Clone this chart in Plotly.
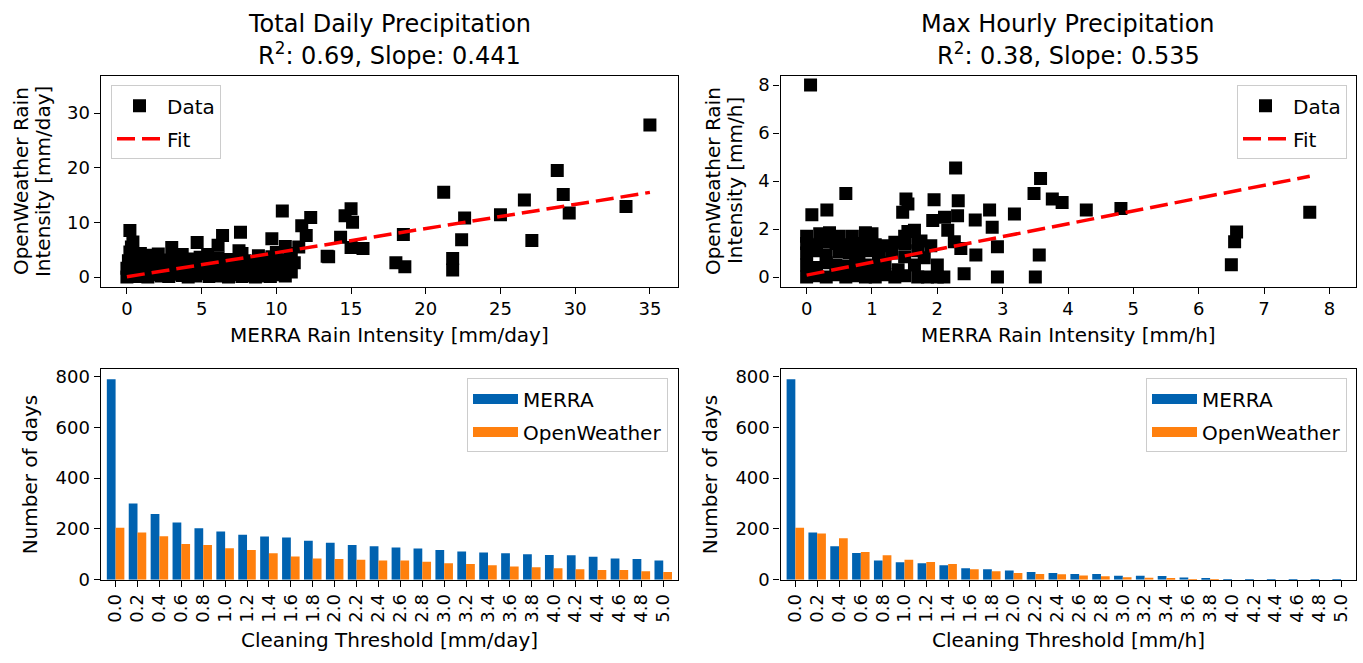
import plotly.graph_objects as go

W, H = 1363, 663
FONT = "DejaVu Sans"

# ---------------- data ----------------
# Total daily precipitation scatter (MERRA x, OpenWeather y) [mm/day]
daily_merra = [
    0.0, 0.1, 0.3, 0.6, 1.0, 1.4, 1.9, 2.3, 2.8, 3.2, 3.7, 4.1, 4.6, 5.0, 5.5, 5.9, 6.4, 6.8, 7.3, 7.7, 8.2, 8.6, 9.1, 9.6, 10.2, 10.6, 11.0,
    0.0, 0.5, 1.1, 1.6, 2.2, 2.7, 3.3, 3.8, 4.4, 4.9, 5.5, 6.0, 6.6, 7.1, 7.7, 8.2, 8.8, 9.3, 9.9, 10.4, 10.9,
    0.1, 0.7, 1.3, 1.9, 2.5, 3.1, 3.7, 4.3, 4.9, 5.5, 6.1, 6.7, 7.3, 7.9, 8.5, 9.1, 9.7, 10.3, 10.9,
    0.2, 0.9, 1.5, 2.1, 3.0, 3.7, 4.7, 5.4, 6.4, 6.1, 7.5, 8.8, 9.7, 10.6, 10.0, 11.0,
    0.2, 0.4, 0.3,
    7.6, 7.7, 10.4, 11.7, 12.3, 12.0, 11.2, 11.5, 13.4, 8.8,
    35.0, 28.8, 29.2, 29.6, 33.4, 26.6, 27.1, 25.0, 21.2, 22.6, 22.4, 21.8, 21.8,
    18.5, 18.0, 18.6, 15.0, 14.6, 15.1, 14.3, 15.0, 15.8, 13.5,
]
daily_ow = [
    0.0, 0.2, 0.5, 0.1, 0.3, 0.0, 0.4, 0.2, 0.1, 0.5, 0.3, 0.0, 0.2, 0.6, 0.1, 0.3, 0.2, 0.0, 0.4, 0.1, 0.3, 0.0, 0.2, 0.1, 0.4, 0.2, 0.9,
    1.6, 1.4, 1.8, 1.2, 1.5, 2.0, 1.3, 1.7, 1.5, 1.9, 1.2, 1.6, 1.4, 1.8, 1.3, 1.5, 1.1, 1.7, 1.9, 1.4, 2.2,
    3.0, 2.8, 3.2, 2.9, 3.1, 3.4, 2.7, 3.3, 3.6, 2.9, 3.5, 3.2, 2.8, 3.0, 2.4, 3.3, 3.7, 3.1, 3.4,
    4.6, 4.3, 4.0, 4.2, 5.4, 4.1, 6.3, 4.1, 7.6, 5.8, 4.8, 3.9, 7.0, 5.6, 4.5, 4.3,
    8.5, 6.4, 5.5,
    8.2, 4.3, 12.1, 9.4, 10.9, 7.6, 2.6, 5.5, 3.8, 2.3,
    27.8, 19.5, 15.1, 11.7, 12.9, 14.1, 6.7, 11.4, 15.5, 10.8, 6.8, 3.4, 1.3,
    7.8, 2.6, 1.9, 12.5, 11.2, 10.0, 7.3, 5.4, 5.2, 3.7,
]

# Max hourly precipitation scatter (MERRA x, OpenWeather y) [mm/h]
hourly_merra = [
    0.0, 0.15, 0.3, 0.45, 0.6, 0.75, 0.9, 1.05, 1.2, 1.35, 1.5, 1.7, 1.85, 2.0, 2.1,
    0.0, 0.15, 0.3, 0.45, 0.6, 0.75, 0.9, 1.05, 1.2, 1.65,
    0.0, 0.15, 0.3, 0.5, 0.65, 0.8, 0.95, 1.1, 1.3, 1.5, 1.7,
    0.0, 0.15, 0.3, 0.45, 0.6, 0.75, 0.9, 1.05, 1.5, 1.7,
    0.0, 0.2, 0.35, 0.5, 0.7, 0.9, 1.0, 1.2, 1.35, 1.5, 1.65, 1.55,
    1.9, 1.8, 2.0, 1.75, 1.4,
    0.6, 0.08, 0.31, 1.52, 1.55, 1.47, 1.95, 2.28, 2.32, 1.93, 2.11, 2.31, 2.16, 2.58, 2.80,
    2.84, 2.92, 3.18, 3.48, 3.58, 3.76, 3.91, 4.28, 3.56, 3.50, 2.92, 2.41, 2.26, 2.36, 2.59,
    4.81, 7.70, 6.58, 6.55, 6.50, 0.06,
]
hourly_ow = [
    0.0, 0.05, 0.0, 0.1, 0.0, 0.05, 0.0, 0.0, 0.1, 0.0, 0.05, 0.0, 0.0, 0.0, 0.0,
    0.5, 0.4, 0.6, 0.5, 0.45, 0.55, 0.5, 0.4, 0.6, 0.5,
    1.0, 1.1, 0.9, 1.05, 1.0, 0.95, 1.1, 0.9, 1.0, 0.85, 1.1,
    1.4, 1.35, 1.45, 1.4, 1.35, 1.4, 1.45, 1.35, 1.4, 1.45,
    1.7, 1.8, 1.85, 1.7, 1.7, 1.85, 1.8, 1.3, 1.45, 1.7, 1.95, 1.9,
    1.3, 0.8, 0.5, 1.5, 0.3,
    3.48, 2.60, 2.79, 3.25, 3.04, 2.70, 3.22, 4.55, 3.18, 2.36, 2.49, 2.56, 1.95, 2.38, 2.79,
    2.08, 1.26, 2.63, 3.48, 4.11, 3.25, 3.11, 2.79, 0.92, 0.0, 0.0, 0.14, 1.47, 1.19, 0.92,
    2.86, 2.70, 1.88, 1.47, 0.51, 8.01,
]

daily_slope, daily_intercept, daily_r2 = 0.441, 0.05, 0.69
hourly_slope, hourly_intercept, hourly_r2 = 0.535, 0.08, 0.38

thresholds = ["0.0", "0.2", "0.4", "0.6", "0.8", "1.0", "1.2", "1.4", "1.6", "1.8",
              "2.0", "2.2", "2.4", "2.6", "2.8", "3.0", "3.2", "3.4", "3.6", "3.8",
              "4.0", "4.2", "4.4", "4.6", "4.8", "5.0"]
daily_merra_days = [790, 300, 259, 225, 203, 190, 177, 170, 166, 154, 146, 137, 132,
                    127, 123, 117, 111, 107, 104, 100, 98, 97, 91, 84, 82, 76]
daily_ow_days = [205, 186, 171, 141, 137, 124, 117, 104, 92, 84, 82, 79, 76,
                 76, 71, 65, 62, 57, 52, 49, 45, 41, 38, 38, 34, 31]
hourly_merra_days = [790, 186, 132, 105, 76, 69, 65, 57, 45, 41, 36, 31, 27,
                     23, 23, 16, 16, 15, 9, 6, 3, 3, 3, 3, 3, 2]
hourly_ow_days = [205, 182, 163, 109, 97, 79, 70, 62, 41, 34, 27, 23, 22,
                  17, 14, 10, 8, 4, 1, 1, 0, 0, 0, 0, 0, 0]

# ---------------- figure ----------------
def fx(px):
    return px / W

def fy(py):
    return 1 - py / H

LEFT = [fx(100.7), fx(677.7)]
RIGHT = [fx(780.5), fx(1355.5)]
TOP = [fy(289.3), fy(74.0)]
BOT = [fy(588.3), fy(373.3)]

BLUE = "#0062b0"
ORANGE = "#ff800e"
TICK_SIZE = 18
LABEL_SIZE = 20
TITLE_SIZE = 24

fig = go.Figure()

def fit_line(xs, slope, intercept):
    x0, x1 = min(xs), max(xs)
    return [x0, x1], [slope * x0 + intercept, slope * x1 + intercept]

# daily scatter
fig.add_trace(go.Scatter(x=daily_merra, y=daily_ow, mode="markers", name="Data",
                         marker=dict(symbol="square", size=13, color="black", line=dict(width=0)),
                         xaxis="x", yaxis="y", legend="legend", legendgroup="d1"))
fx_d, fy_d = fit_line(daily_merra, daily_slope, daily_intercept)
fig.add_trace(go.Scatter(x=fx_d, y=fy_d, mode="lines", name="Fit",
                         line=dict(color="red", width=3.5, dash="18px,7px"),
                         xaxis="x", yaxis="y", legend="legend", legendgroup="d2"))
# hourly scatter
fig.add_trace(go.Scatter(x=hourly_merra, y=hourly_ow, mode="markers", name="Data",
                         marker=dict(symbol="square", size=13, color="black", line=dict(width=0)),
                         xaxis="x2", yaxis="y2", legend="legend2", legendgroup="h1"))
fx_h, fy_h = fit_line(hourly_merra, hourly_slope, hourly_intercept)
fig.add_trace(go.Scatter(x=fx_h, y=fy_h, mode="lines", name="Fit",
                         line=dict(color="red", width=3.5, dash="18px,7px"),
                         xaxis="x2", yaxis="y2", legend="legend2", legendgroup="h2"))

# bars (legend entries drawn as wide patches, like matplotlib)
for xa, ya, leg, merra_vals, ow_vals, g in [
    ("x3", "y3", "legend3", daily_merra_days, daily_ow_days, "b"),
    ("x4", "y4", "legend4", hourly_merra_days, hourly_ow_days, "c"),
]:
    fig.add_trace(go.Bar(x=thresholds, y=merra_vals, name="MERRA",
                         marker=dict(color=BLUE, line=dict(width=0)),
                         xaxis=xa, yaxis=ya, showlegend=False, offsetgroup="m", legendgroup=g + "1"))
    fig.add_trace(go.Bar(x=thresholds, y=ow_vals, name="OpenWeather",
                         marker=dict(color=ORANGE, line=dict(width=0)),
                         xaxis=xa, yaxis=ya, showlegend=False, offsetgroup="o", legendgroup=g + "2"))
    fig.add_trace(go.Scatter(x=[None], y=[None], mode="lines", name="MERRA",
                             line=dict(color=BLUE, width=14), xaxis=xa, yaxis=ya,
                             legend=leg, legendgroup=g + "1", hoverinfo="skip"))
    fig.add_trace(go.Scatter(x=[None], y=[None], mode="lines", name="OpenWeather",
                             line=dict(color=ORANGE, width=14), xaxis=xa, yaxis=ya,
                             legend=leg, legendgroup=g + "2", hoverinfo="skip"))

axis_common = dict(showline=True, linecolor="black", linewidth=1.3, mirror=True,
                   ticks="outside", ticklen=6, tickwidth=1.3, tickcolor="black",
                   showgrid=False, zeroline=False,
                   tickfont=dict(family=FONT, size=TICK_SIZE, color="black"))

lim_d = [-1.755, 36.86]
lim_h = [-0.4, 8.4]
cat_axis = dict(type="category", range=[-0.68, 25.66], tickangle=-90,
                tickmode="array", tickvals=thresholds, ticktext=thresholds)

fig.update_layout(
    xaxis=dict(domain=LEFT, anchor="y", range=lim_d, tickvals=[0, 5, 10, 15, 20, 25, 30, 35], **axis_common),
    yaxis=dict(domain=TOP, anchor="x", range=lim_d, tickvals=[0, 10, 20, 30], **axis_common),
    xaxis2=dict(domain=RIGHT, anchor="y2", range=lim_h, tickvals=[0, 1, 2, 3, 4, 5, 6, 7, 8], **axis_common),
    yaxis2=dict(domain=TOP, anchor="x2", range=lim_h, tickvals=[0, 2, 4, 6, 8], **axis_common),
    xaxis3=dict(domain=LEFT, anchor="y3", **cat_axis, **axis_common),
    yaxis3=dict(domain=BOT, anchor="x3", range=[0, 830], tickvals=[0, 200, 400, 600, 800], **axis_common),
    xaxis4=dict(domain=RIGHT, anchor="y4", **cat_axis, **axis_common),
    yaxis4=dict(domain=BOT, anchor="x4", range=[0, 830], tickvals=[0, 200, 400, 600, 800], **axis_common),
    barmode="group", bargap=0.2, bargroupgap=0.0,
    width=W, height=H, autosize=False,
    margin=dict(l=0, r=0, t=0, b=0),
    paper_bgcolor="white", plot_bgcolor="white",
    font=dict(family=FONT, size=LABEL_SIZE, color="black"),
    showlegend=True,
)

legend_common = dict(bgcolor="rgba(255,255,255,0.8)", bordercolor="#cccccc", borderwidth=1,
                     font=dict(family=FONT, size=LABEL_SIZE, color="black"),
                     traceorder="grouped", tracegroupgap=4, itemwidth=45)
fig.update_layout(
    legend=dict(x=fx(111), y=fy(84), xanchor="left", yanchor="top", **legend_common),
    legend2=dict(x=fx(1347), y=fy(84), xanchor="right", yanchor="top", **legend_common),
    legend3=dict(x=fx(668), y=fy(383), xanchor="right", yanchor="top", **legend_common),
    legend4=dict(x=fx(1347), y=fy(383), xanchor="right", yanchor="top", **legend_common),
)

annotations = []
def text(s, px, py, size=LABEL_SIZE, angle=0):
    annotations.append(dict(text=s, x=fx(px), y=fy(py), xref="paper", yref="paper",
                            xanchor="center", yanchor="middle", showarrow=False,
                            textangle=angle, font=dict(family=FONT, size=size, color="black")))

cl = (100.7 + 677.7) / 2
cr = (780.5 + 1355.5) / 2
text("Total Daily Precipitation", cl, 21, size=TITLE_SIZE)
text("R<sup>2</sup>: %.2f, Slope: %.3f" % (daily_r2, daily_slope), cl, 52.5, size=TITLE_SIZE)
text("Max Hourly Precipitation", cr, 21, size=TITLE_SIZE)
text("R<sup>2</sup>: %.2f, Slope: %.3f" % (hourly_r2, hourly_slope), cr, 52.5, size=TITLE_SIZE)

text("MERRA Rain Intensity [mm/day]", cl, 339)
text("MERRA Rain Intensity [mm/h]", cr, 339)
ymid_top = (74.0 + 289.3) / 2
ymid_bot = (373.3 + 588.3) / 2
text("OpenWeather Rain", 21, ymid_top, angle=-90)
text("Intensity [mm/day]", 43, ymid_top, angle=-90)
text("OpenWeather Rain", 713, ymid_top, angle=-90)
text("Intensity [mm/h]", 735, ymid_top, angle=-90)
text("Number of days", 30, ymid_bot, angle=-90)
text("Number of days", 710, ymid_bot, angle=-90)
text("Cleaning Threshold [mm/day]", cl, 650)
text("Cleaning Threshold [mm/h]", cr, 650)

fig.update_layout(annotations=annotations)

# pin the page to the window: no page margin, and the figure fills the viewport exactly
page_js = (
    "var s=document.createElement('style');"
    "s.textContent='html,body{margin:0!important;padding:0!important;overflow:hidden!important;}';"
    "document.head.appendChild(s);"
    "var gd=document.getElementById('{plot_id}');"
    "var w=window.innerWidth||%d, h=window.innerHeight||%d;"
    "if(w!==%d||h!==%d){Plotly.relayout(gd,{width:w,height:h});}" % (W, H, W, H)
)
fig.write_html("out.html", config={"displayModeBar": False}, post_script=page_js)
